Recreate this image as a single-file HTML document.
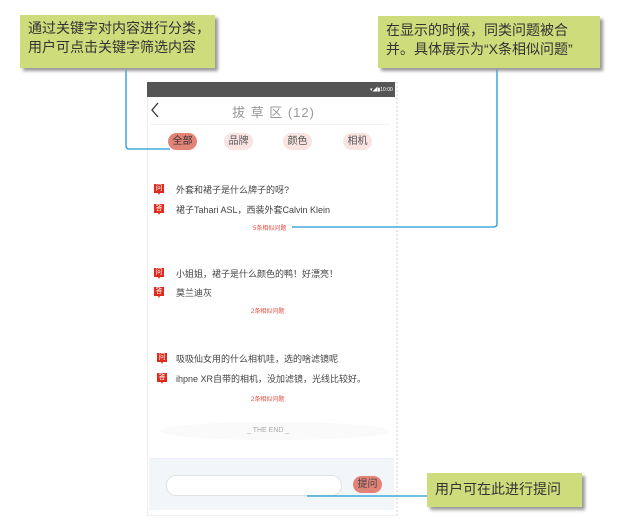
<!DOCTYPE html>
<html><head><meta charset="utf-8"><style>
body{margin:0;width:633px;height:524px;background:#fff;position:relative;overflow:hidden;font-family:"Liberation Sans","Noto Sans CJK SC",sans-serif;}
.a{position:absolute;}
.box{position:absolute;background:#cfdc7c;box-shadow:3px 3px 3px #9a9a9a;color:#333;font-size:14px;line-height:19px;}
.pill{position:absolute;height:17px;border-radius:9px;background:#f9e4e2;font-size:10px;line-height:17px;text-align:center;color:#555;width:29px;}
.ic{position:absolute;width:10px;height:9px;background:#e02a1e;color:#fff;font-size:7px;line-height:9px;text-align:center;}
.ic:after{content:"";position:absolute;left:3.5px;top:9px;border-left:1.5px solid transparent;border-right:1.5px solid transparent;border-top:2px solid #e02a1e;}
.t{position:absolute;font-size:9px;color:#444;white-space:nowrap;}
.sim{position:absolute;font-size:6px;color:#e8483c;white-space:nowrap;}
</style></head><body>
<div class="a" style="left:147px;top:82px;width:248px;height:432px;background:#fff;border:1px solid #eee;border-right:2px dotted #e8e8e8;"></div>
<div class="a" style="left:147px;top:82px;width:248px;height:15px;background:#555;"></div>
<div class="a" style="left:370px;top:86px;font-size:5px;color:#fff;">▾◢▮10:00</div>
<svg class="a" style="left:148px;top:100px" width="14" height="20"><polyline points="10,3 4,10 10,17" fill="none" stroke="#333" stroke-width="1.3"/></svg>
<div class="a" style="left:232px;top:102px;font-size:13px;color:#999;letter-spacing:1px;">拔 草 区 (12)</div>
<div class="a" style="left:150px;top:124px;width:240px;height:1px;background:#f2f2f2;"></div>
<div class="pill" style="left:168px;top:133px;background:#e38276;color:#333;">全部</div>
<div class="pill" style="left:224px;top:133px;">品牌</div>
<div class="pill" style="left:283px;top:133px;">颜色</div>
<div class="pill" style="left:343px;top:133px;">相机</div>

<div class="ic" style="left:154px;top:184px;">问</div><div class="t" style="left:176px;top:183px;">外套和裙子是什么牌子的呀?</div>
<div class="ic" style="left:154px;top:204px;">答</div><div class="t" style="left:176px;top:203px;">裙子Tahari ASL，西装外套Calvin Klein</div>
<div class="sim" style="left:253px;top:223px;">5条相似问题</div>

<div class="ic" style="left:154px;top:268px;">问</div><div class="t" style="left:176px;top:267px;">小姐姐，裙子是什么颜色的鸭！好漂亮！</div>
<div class="ic" style="left:154px;top:287px;">答</div><div class="t" style="left:176px;top:286px;">莫兰迪灰</div>
<div class="sim" style="left:251px;top:306px;">2条相似问题</div>

<div class="ic" style="left:157px;top:353px;">问</div><div class="t" style="left:176px;top:352px;">吸吸仙女用的什么相机哇，选的啥滤镜呢</div>
<div class="ic" style="left:157px;top:373px;">答</div><div class="t" style="left:176px;top:372px;">ihpne XR自带的相机，没加滤镜，光线比较好。</div>
<div class="sim" style="left:251px;top:394px;">2条相似问题</div>
<div class="a" style="left:160px;top:422px;width:230px;height:18px;border-radius:50%;background:#fafafa;"></div>
<div class="a" style="left:247px;top:427px;font-size:7px;color:#aaa;">_ THE END _</div>

<div class="a" style="left:149px;top:458px;width:245px;height:51px;background:#f3f6f9;border-top:1px solid #eef;"></div>
<div class="a" style="left:166px;top:475px;width:174px;height:19px;border-radius:10px;background:#fff;border:1px solid #e2e2e2;"></div>
<div class="pill" style="left:353px;top:476px;background:#e38276;color:#444;">提问</div>

<svg class="a" style="left:0;top:0" width="633" height="524">
<path d="M126 68 V146 a3 3 0 0 0 3 3 H170" fill="none" stroke="#1e9ad3" stroke-width="1.3"/>
<path d="M497 68 V224 a3 3 0 0 1 -3 3 H292" fill="none" stroke="#1e9ad3" stroke-width="1.3"/>
<path d="M307 496 H428" fill="none" stroke="#1e9ad3" stroke-width="1.3"/>
</svg>
<div class="box" style="left:20px;top:15px;width:195px;height:53px;padding:4px 0 0 8px;box-sizing:border-box;">通过关键字对内容进行分类，<br>用户可点击关键字筛选内容</div>
<div class="box" style="left:378px;top:16px;width:222px;height:52px;padding:5px 0 0 8px;box-sizing:border-box;">在显示的时候，同类问题被合<br>并。具体展示为“X条相似问题”</div>
<div class="box" style="left:427px;top:473px;width:155px;height:34px;padding:7px 0 0 8px;box-sizing:border-box;">用户可在此进行提问</div>
</body></html>
